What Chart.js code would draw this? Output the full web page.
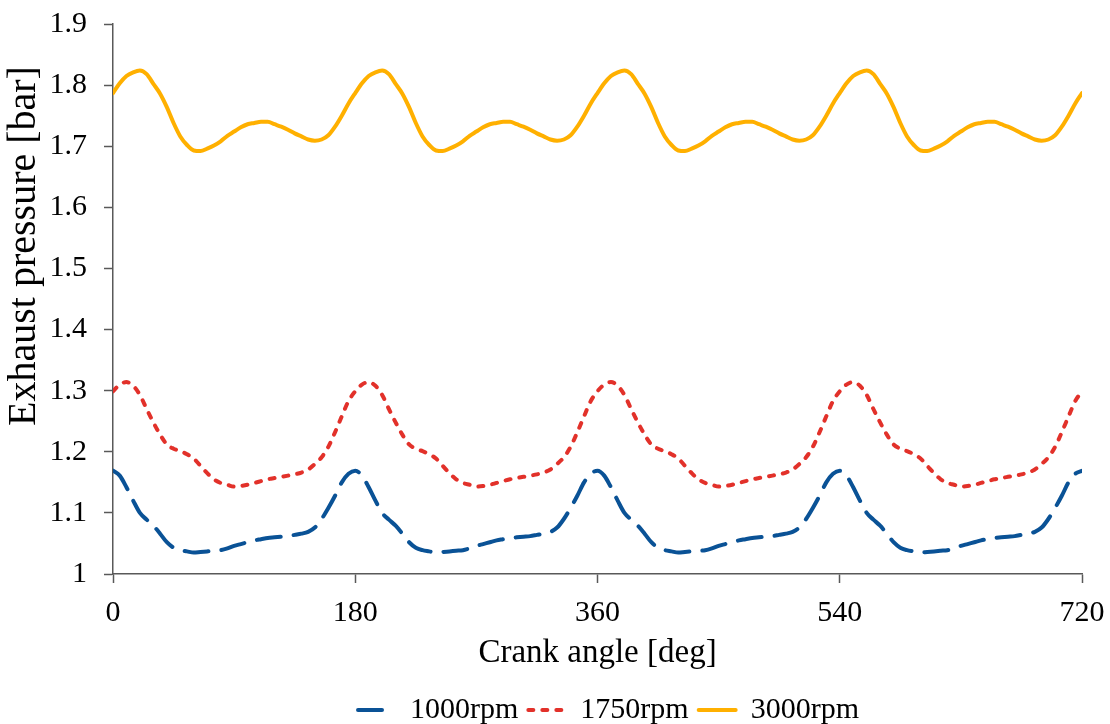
<!DOCTYPE html>
<html>
<head>
<meta charset="utf-8">
<script src="https://cdn.jsdelivr.net/npm/chart.js@4"></script>
<style>
  html, body { margin: 0; padding: 0; background: #ffffff; }
  #wrap { width: 1110px; height: 724px; position: relative; }
</style>
</head>
<body>
<div id="wrap"><canvas id="c"></canvas></div>
<script>
// Crank angle [deg]
const crankAngle = [
  0,5,10,15,20,25,30,35,40,45,50,55,60,65,70,75,80,85,90,95,100,105,110,115,120,125,130,135,140,145,150,155,160,165,170,175,
  180,185,190,195,200,205,210,215,220,225,230,235,240,245,250,255,260,265,270,275,280,285,290,295,300,305,310,315,320,325,330,335,340,345,350,355,
  360,365,370,375,380,385,390,395,400,405,410,415,420,425,430,435,440,445,450,455,460,465,470,475,480,485,490,495,500,505,510,515,520,525,530,535,
  540,545,550,555,560,565,570,575,580,585,590,595,600,605,610,615,620,625,630,635,640,645,650,655,660,665,670,675,680,685,690,695,700,705,710,715,
  720
];

// Exhaust pressure [bar], 1000 rpm
const p1000 = [
  1.169,1.161,1.142,1.120,1.100,1.089,1.079,1.066,1.052,1.043,1.039,1.037,1.035,1.036,1.037,1.038,1.039,1.042,1.046,1.049,1.052,1.055,1.057,1.059,1.060,1.061,1.062,1.064,1.066,1.069,1.076,1.090,1.108,1.128,1.150,1.164,
  1.169,1.161,1.142,1.120,1.100,1.089,1.079,1.066,1.052,1.043,1.039,1.037,1.035,1.036,1.037,1.038,1.039,1.042,1.046,1.049,1.052,1.055,1.057,1.059,1.060,1.061,1.062,1.064,1.066,1.069,1.076,1.090,1.108,1.128,1.150,1.164,
  1.169,1.161,1.142,1.120,1.100,1.089,1.079,1.066,1.052,1.043,1.039,1.037,1.035,1.036,1.037,1.038,1.039,1.042,1.046,1.049,1.052,1.055,1.057,1.059,1.060,1.061,1.062,1.064,1.066,1.069,1.076,1.090,1.108,1.128,1.150,1.164,
  1.169,1.161,1.142,1.120,1.100,1.089,1.079,1.066,1.052,1.043,1.039,1.037,1.035,1.036,1.037,1.038,1.039,1.042,1.046,1.049,1.052,1.055,1.057,1.059,1.060,1.061,1.062,1.064,1.066,1.069,1.076,1.090,1.108,1.128,1.150,1.164,
  1.169
];

// Exhaust pressure [bar], 1750 rpm
const p1750 = [
  1.299,1.310,1.314,1.308,1.293,1.270,1.248,1.228,1.212,1.205,1.201,1.196,1.189,1.177,1.165,1.155,1.149,1.146,1.143,1.144,1.146,1.149,1.152,1.155,1.157,1.159,1.161,1.163,1.166,1.171,1.180,1.191,1.208,1.232,1.258,1.283,
  1.299,1.310,1.314,1.308,1.293,1.270,1.248,1.228,1.212,1.205,1.201,1.196,1.189,1.177,1.165,1.155,1.149,1.146,1.143,1.144,1.146,1.149,1.152,1.155,1.157,1.159,1.161,1.163,1.166,1.171,1.180,1.191,1.208,1.232,1.258,1.283,
  1.299,1.310,1.314,1.308,1.293,1.270,1.248,1.228,1.212,1.205,1.201,1.196,1.189,1.177,1.165,1.155,1.149,1.146,1.143,1.144,1.146,1.149,1.152,1.155,1.157,1.159,1.161,1.163,1.166,1.171,1.180,1.191,1.208,1.232,1.258,1.283,
  1.299,1.310,1.314,1.308,1.293,1.270,1.248,1.228,1.212,1.205,1.201,1.196,1.189,1.177,1.165,1.155,1.149,1.146,1.143,1.144,1.146,1.149,1.152,1.155,1.157,1.159,1.161,1.163,1.166,1.171,1.180,1.191,1.208,1.232,1.258,1.283,
  1.299
];

// Exhaust pressure [bar], 3000 rpm
const p3000 = [
  1.787,1.803,1.815,1.821,1.824,1.818,1.802,1.786,1.764,1.738,1.716,1.702,1.693,1.692,1.696,1.701,1.708,1.717,1.724,1.731,1.736,1.738,1.740,1.740,1.736,1.732,1.727,1.721,1.716,1.711,1.709,1.711,1.718,1.732,1.750,1.770,
  1.787,1.803,1.815,1.821,1.824,1.818,1.802,1.786,1.764,1.738,1.716,1.702,1.693,1.692,1.696,1.701,1.708,1.717,1.724,1.731,1.736,1.738,1.740,1.740,1.736,1.732,1.727,1.721,1.716,1.711,1.709,1.711,1.718,1.732,1.750,1.770,
  1.787,1.803,1.815,1.821,1.824,1.818,1.802,1.786,1.764,1.738,1.716,1.702,1.693,1.692,1.696,1.701,1.708,1.717,1.724,1.731,1.736,1.738,1.740,1.740,1.736,1.732,1.727,1.721,1.716,1.711,1.709,1.711,1.718,1.732,1.750,1.770,
  1.787,1.803,1.815,1.821,1.824,1.818,1.802,1.786,1.764,1.738,1.716,1.702,1.693,1.692,1.696,1.701,1.708,1.717,1.724,1.731,1.736,1.738,1.740,1.740,1.736,1.732,1.727,1.721,1.716,1.711,1.709,1.711,1.718,1.732,1.750,1.770,
  1.787
];

const seriesNames = ['1000rpm', '1750rpm', '3000rpm'];
const xTickValues = [0, 180, 360, 540, 720];
const yTickValues = [1, 1.1, 1.2, 1.3, 1.4, 1.5, 1.6, 1.7, 1.8, 1.9];
const xTitle = 'Crank angle [deg]';
const yTitle = 'Exhaust pressure [bar]';

const FONT = "'Liberation Serif', 'Times New Roman', serif";
const AXIS_COLOR = '#595959';
const CHART_BOTTOM = 574;
const PAD_BOTTOM = -11;
const LEGEND_FONT = 30;
const LEGEND_PAD = 10;
const LEGEND_H = LEGEND_FONT + LEGEND_PAD + 10;
const LEGEND_SHIFT = 11;

function toPoints(ys) { return crankAngle.map((x, i) => ({ x: x, y: ys[i] })); }

const data = {
  datasets: [
    { label: seriesNames[0], data: toPoints(p1000), borderColor: '#0A5296', backgroundColor: '#0A5296',
      borderWidth: 4, borderDash: [24, 13], borderCapStyle: 'round', pointRadius: 0, cubicInterpolationMode: 'monotone', fill: false },
    { label: seriesNames[1], data: toPoints(p1750), borderColor: '#E2312A', backgroundColor: '#E2312A',
      borderWidth: 4, borderDash: [5, 9], borderCapStyle: 'round', pointRadius: 0, cubicInterpolationMode: 'monotone', fill: false },
    { label: seriesNames[2], data: toPoints(p3000), borderColor: '#FFB000', backgroundColor: '#FFB000',
      borderWidth: 4, borderCapStyle: 'round', pointRadius: 0, cubicInterpolationMode: 'monotone', fill: false }
  ]
};

// vertical axis title, drawn as canvas text beside the y scale
const yTitlePlugin = {
  id: 'yTitleText',
  afterLayout(chart) {
    if (chart.legend) { chart.legend.left += LEGEND_SHIFT; chart.legend.right += LEGEND_SHIFT; }
  },
  afterDraw(chart) {
    const ctx = chart.ctx;
    const a = chart.chartArea;
    ctx.save();
    ctx.font = '40px ' + FONT;
    ctx.fillStyle = '#000';
    ctx.textAlign = 'center';
    ctx.textBaseline = 'middle';
    ctx.translate(24, (a.top + a.bottom) / 2 - 53);
    ctx.rotate(-Math.PI / 2);
    ctx.fillText(yTitle, 0, 0);
    ctx.restore();
  }
};

new Chart(document.getElementById('c'), {
  type: 'line',
  data: data,
  plugins: [yTitlePlugin],
  options: {
    responsive: true,
    maintainAspectRatio: false,
    animation: false,
    devicePixelRatio: 1,
    layout: { autoPadding: false, padding: { left: 0, right: 28, top: 24, bottom: PAD_BOTTOM } },
    plugins: {
      tooltip: { enabled: false },
      legend: {
        position: 'bottom',
        fullSize: false,
        labels: {
          usePointStyle: true,
          pointStyle: 'line',
          pointStyleWidth: 37,
          padding: LEGEND_PAD,
          color: '#000',
          font: { family: FONT, size: LEGEND_FONT },
          generateLabels: (chart) => {
            const items = Chart.defaults.plugins.legend.labels.generateLabels(chart);
            items.forEach((it) => {
              const ds = chart.data.datasets[it.datasetIndex];
              it.lineDash = ds.borderDash || [];
              it.lineWidth = ds.borderWidth;
              it.strokeStyle = ds.borderColor;
              it.fillStyle = ds.borderColor;
              it.lineCap = 'round';
            });
            return items;
          }
        }
      }
    },
    scales: {
      x: {
        type: 'linear',
        min: 0, max: 720,
        afterBuildTicks: (s) => { s.ticks = xTickValues.map(v => ({ value: v })); },
        afterFit: (s) => {
          s.height = 724 - CHART_BOTTOM - PAD_BOTTOM - LEGEND_H;
          s.paddingLeft = 0; s.paddingRight = 0;
        },
        border: { display: true, color: AXIS_COLOR, width: 1.5 },
        grid: { display: true, drawOnChartArea: false, drawTicks: true, tickLength: 9, color: AXIS_COLOR, tickColor: AXIS_COLOR, tickWidth: 1.5 },
        ticks: { color: '#000', font: { family: FONT, size: 30 }, padding: 12, maxRotation: 0, autoSkip: false },
        title: { display: true, text: xTitle, color: '#000', font: { family: FONT, size: 33 }, padding: { top: 0, bottom: 12 } }
      },
      y: {
        type: 'linear',
        min: 1, max: 1.9,
        afterBuildTicks: (s) => { s.ticks = yTickValues.map(v => ({ value: v })); },
        afterFit: (s) => {
          s.width = 113;
          s.paddingTop = 0; s.paddingBottom = 0;
        },
        border: { display: true, color: AXIS_COLOR, width: 1.5 },
        grid: { display: true, drawOnChartArea: false, drawTicks: true, tickLength: 9, color: AXIS_COLOR, tickColor: AXIS_COLOR, tickWidth: 1.5 },
        ticks: {
          color: '#000', font: { family: FONT, size: 30 }, padding: 17,
          callback: (v) => String(Number(v.toFixed(1)))
        },
        title: { display: false }
      }
    }
  }
});
</script>
</body>
</html>
